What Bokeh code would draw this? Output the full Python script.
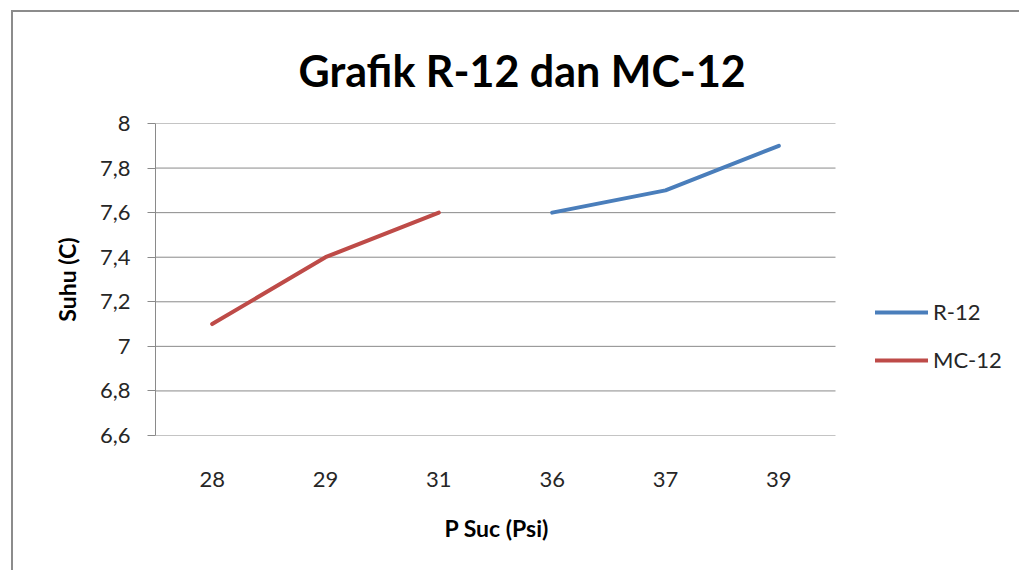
from bokeh.plotting import figure
from bokeh.models import (FixedTicker, CustomJSTickFormatter, Legend, LegendItem, Range1d,
                          Title)
from bokeh.embed import file_html
from bokeh.resources import INLINE

categories = ["28", "29", "31", "36", "37", "39"]
mc12_x = ["28", "29", "31"]
mc12_y = [7.1, 7.4, 7.6]
r12_x = ["36", "37", "39"]
r12_y = [7.6, 7.7, 7.9]
y_ticks = [6.6, 6.8, 7.0, 7.2, 7.4, 7.6, 7.8, 8.0]

FONT = "Lato"
GRID = "#8a8a8a"
TXT = "#262626"
FS = "22px"

n = len(categories)
pos = {c: i + 0.5 for i, c in enumerate(categories)}
# plot area spans the categories, extra room on the right holds the legend
x_end = n * 860.0 / 680.0

p = figure(x_range=Range1d(0, x_end), y_range=Range1d(6.6, 8.0), width=1008, height=560,
           output_backend="svg", toolbar_location=None,
           min_border_left=142, min_border_right=6, min_border_top=111,
           min_border_bottom=137, margin=(10, 0, 0, 11),
           styles={"border-left": "2px solid #8c8c8c", "border-top": "2px solid #8c8c8c"})

p.outline_line_color = None
p.background_fill_color = "white"
p.border_fill_color = "white"

p.title.text = "Grafik R-12 dan MC-12"
p.title.text_font = FONT
p.title.text_font_size = "43px"
p.title.text_font_style = "bold"
p.title.text_color = "black"
p.title.align = "left"
p.title.offset = 143
p.title.standoff = 56

# y axis
p.yaxis.ticker = FixedTicker(ticks=y_ticks)
p.yaxis.formatter = CustomJSTickFormatter(
    code="var s = (Math.round(tick*10)/10).toString(); return s.replace('.', ',');")
p.yaxis.axis_label = "Suhu (C)"
p.yaxis.axis_label_text_font = FONT
p.yaxis.axis_label_text_font_size = "23px"
p.yaxis.axis_label_text_font_style = "bold"
p.yaxis.axis_label_text_color = "black"
p.yaxis.axis_label_standoff = 16
p.yaxis.major_label_text_font = FONT
p.yaxis.major_label_text_font_size = FS
p.yaxis.major_label_text_color = TXT
p.yaxis.major_label_standoff = 17
p.yaxis.axis_line_color = GRID
p.yaxis.major_tick_line_color = GRID
p.yaxis.major_tick_out = 8
p.yaxis.major_tick_in = 0
p.yaxis.minor_tick_line_color = None

# x axis (category axis)
p.xaxis.ticker = FixedTicker(ticks=[pos[c] for c in categories])
p.xaxis.formatter = CustomJSTickFormatter(args=dict(cats=categories),
                                          code="return cats[Math.round(tick - 0.5)];")
p.xaxis.major_label_text_font = FONT
p.xaxis.major_label_text_font_size = FS
p.xaxis.major_label_text_color = TXT
p.xaxis.major_label_standoff = 30
p.xaxis.axis_line_color = None
p.xaxis.major_tick_line_color = None
p.xaxis.minor_tick_line_color = None

# x axis title, centred under the category area
xlabel = Title(text="P Suc (Psi)", align="left", offset=289, standoff=44,
               text_font=FONT, text_font_size="23px", text_font_style="bold",
               text_color="black")
p.add_layout(xlabel, "below")

p.xgrid.grid_line_color = None
p.ygrid.grid_line_color = None
p.segment(x0=[0] * len(y_ticks), x1=[n] * len(y_ticks), y0=y_ticks, y1=y_ticks,
          line_color=GRID, line_width=1)

r1 = p.line([pos[c] for c in r12_x], r12_y, line_color="#4a7ebb", line_width=4,
            line_cap="round")
r2 = p.line([pos[c] for c in mc12_x], mc12_y, line_color="#be4b48", line_width=4,
            line_cap="round")

legend = Legend(items=[LegendItem(label="R-12", renderers=[r1]),
                       LegendItem(label="MC-12", renderers=[r2])],
                location=(720, 62), orientation="vertical",
                margin=0, padding=0, spacing=21,
                glyph_width=53, glyph_height=20, label_height=20,
                label_standoff=5, label_text_font=FONT,
                label_text_font_size=FS, label_text_color=TXT,
                border_line_color=None, background_fill_alpha=0)
p.add_layout(legend, "center")

open("out.html", "w").write(file_html(p, INLINE))
